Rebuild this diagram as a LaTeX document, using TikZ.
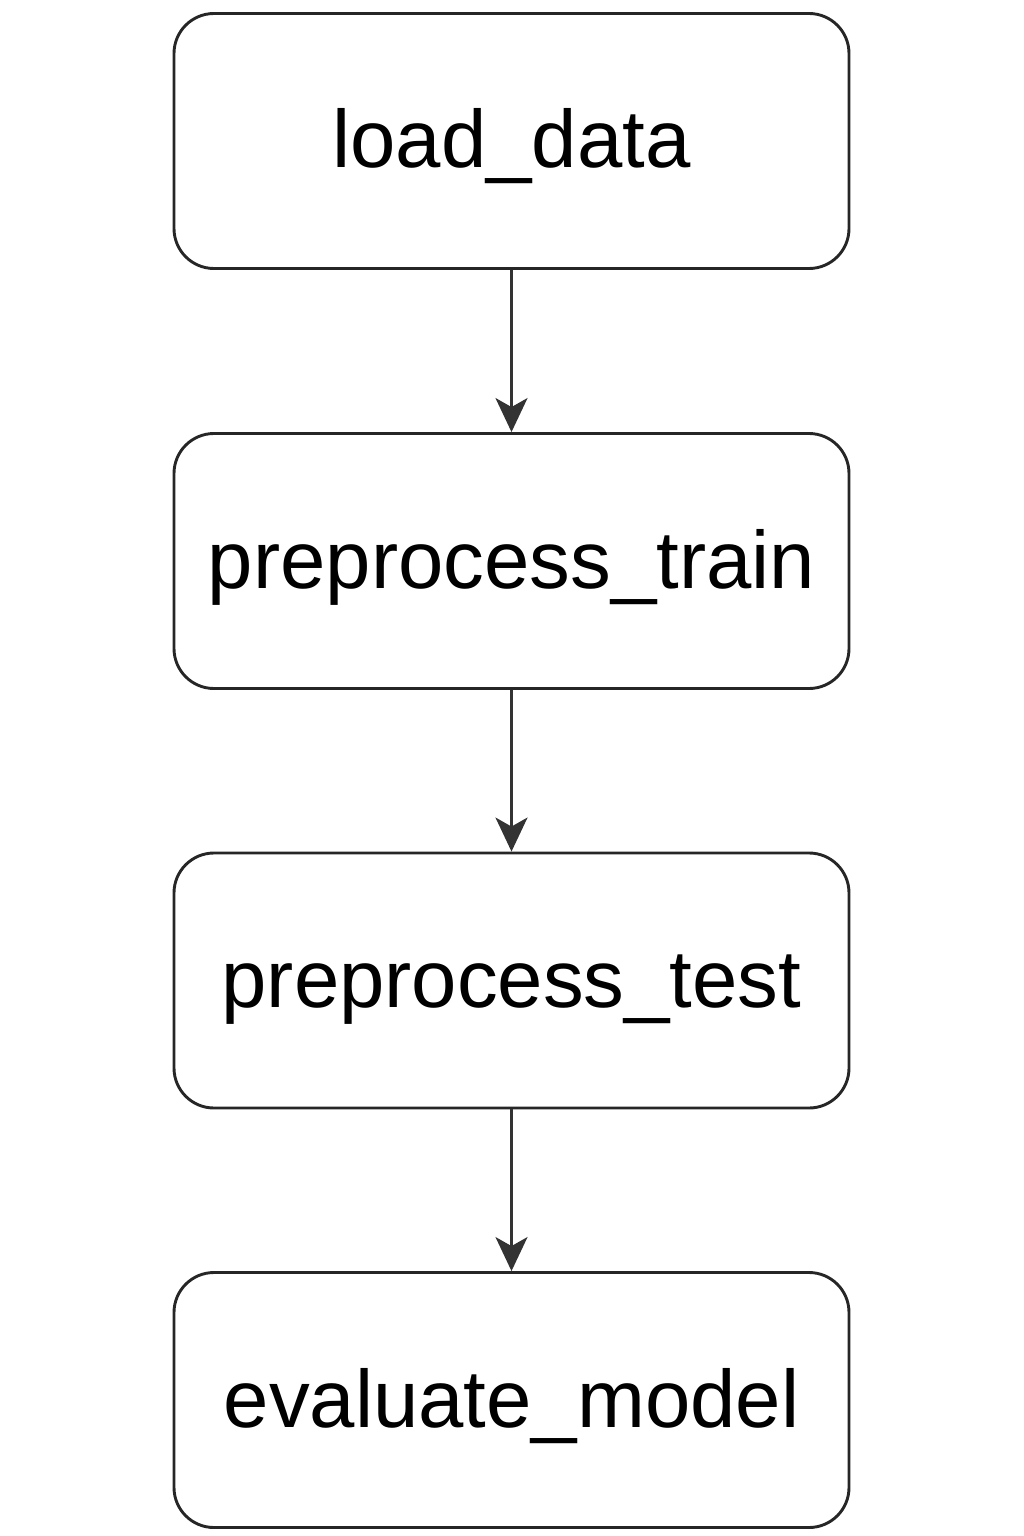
\documentclass[tikz,border=0pt]{standalone}
\usepackage{fontspec}
\setmainfont{Liberation Sans}
\usetikzlibrary{arrows.meta}
\newcommand{\boxtext}[1]{\smash{\raisebox{-27pt}{#1}}}
\begin{document}
\begin{tikzpicture}[x=1pt,y=-1pt,
  stepbox/.style={draw=black!85, line width=2.9pt, rounded corners=40pt, minimum width=675pt, minimum height=255pt, inner sep=0pt, font=\fontsize{81.5}{96}\selectfont, text=black},
  conn/.style={draw=black!80, line width=2.5pt, -{Stealth[length=34pt, width=32pt, inset=9pt]}}]
\useasboundingbox (0,0) rectangle (1024,1536);
\node[stepbox] (a) at (511.5,141) {\boxtext{load\_data}};
\node[stepbox] (b) at (511.5,561) {\boxtext{preprocess\_train}};
\node[stepbox] (c) at (511.5,980.5) {\boxtext{preprocess\_test}};
\node[stepbox] (d) at (511.5,1400) {\boxtext{evaluate\_model}};
\draw[conn] (a) -- (b);
\draw[conn] (b) -- (c);
\draw[conn] (c) -- (d);
\end{tikzpicture}
\end{document}
